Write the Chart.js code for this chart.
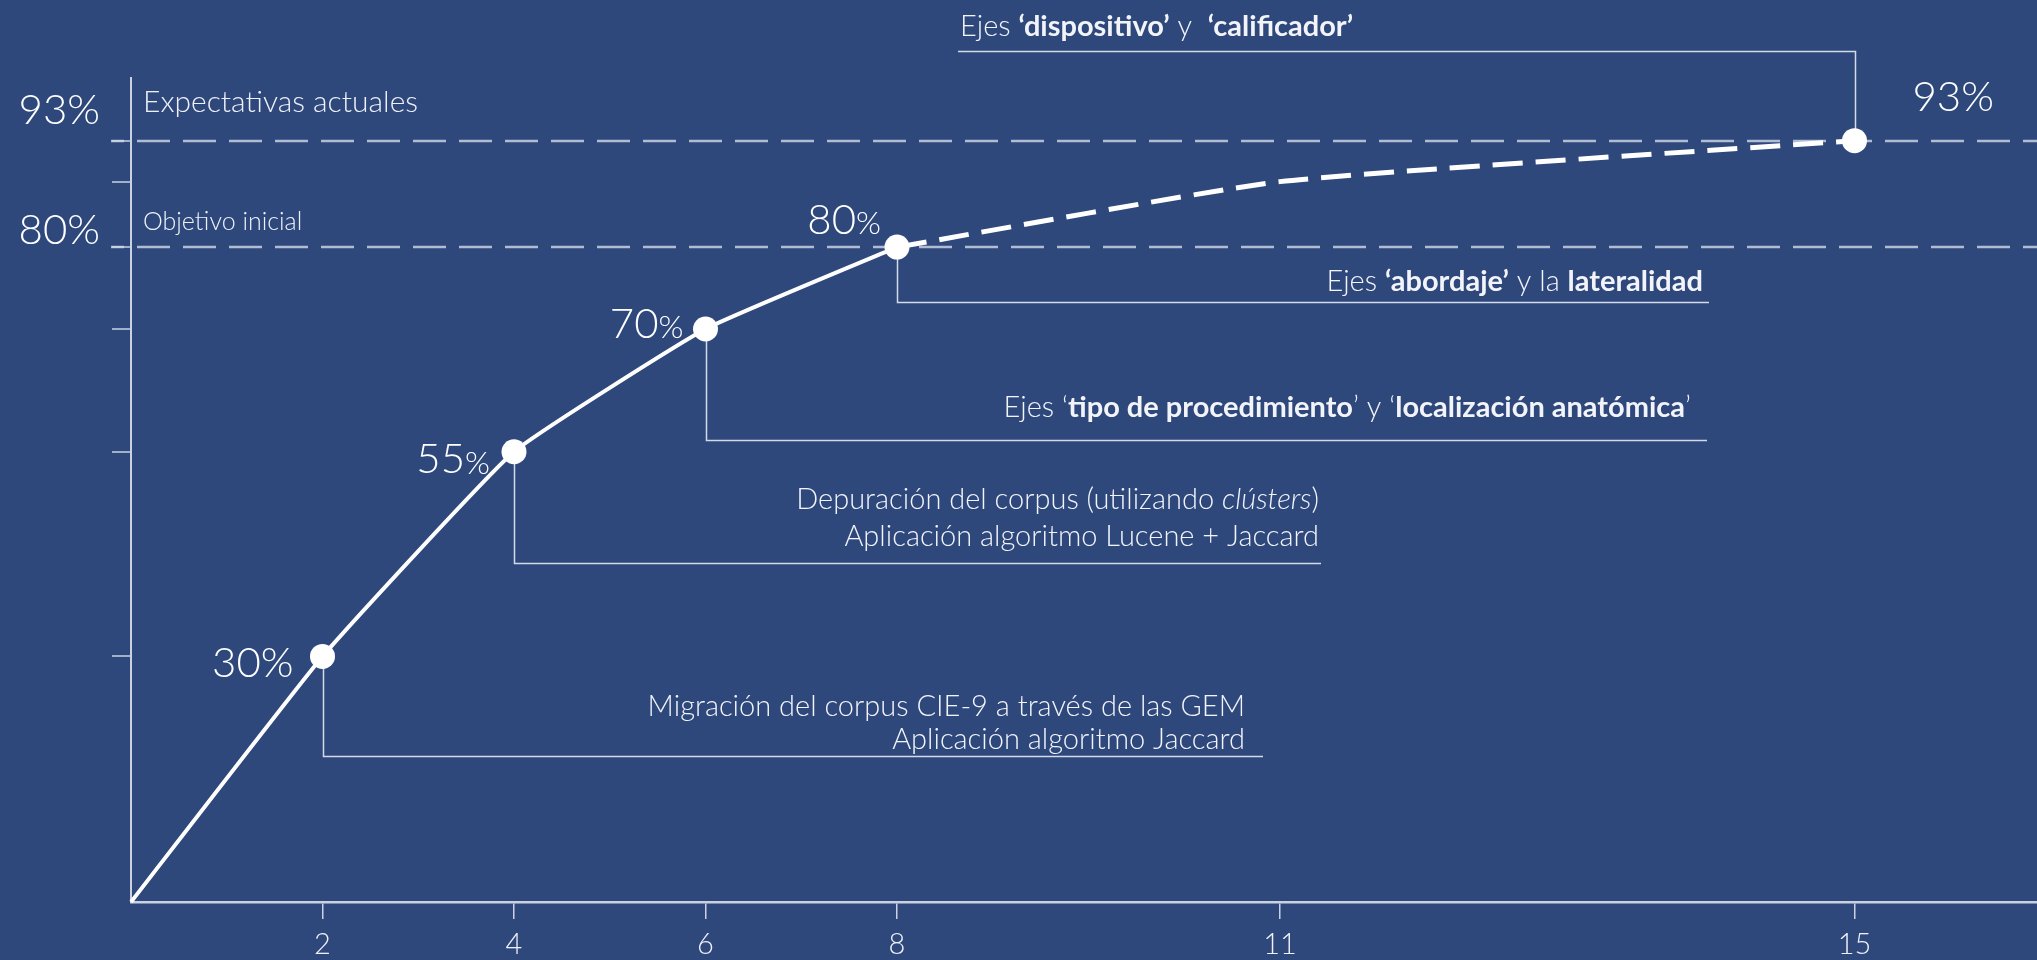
<!DOCTYPE html>
<html><head><meta charset="utf-8">
<script src="https://cdn.jsdelivr.net/npm/chart.js@4.4.1/dist/chart.umd.min.js"></script>
<style>
html,body{margin:0;padding:0;background:#2e487c;overflow:hidden;}
#wrap{position:relative;width:2054px;height:960px;overflow:hidden;}
canvas{display:block;}
</style></head><body>
<div id="wrap"><canvas id="c" width="2054" height="960"></canvas></div>
<script>
// ---------- data ----------
const categories = ['', '2', '4', '6', '8', '', '11', '', '', '15', ''];
const achieved   = [0, 30, 55, 70, 80, null, null, null, null, null, null];
const projected  = [null, null, null, null, 80, null, 88, null, null, 93, null];
const yTickValues = [30, 55, 70, 80, 88, 93];
const referenceValues = [93, 80];
const referenceTickLabels = ['93%', '80%'];
const referenceLabels = ['Expectativas actuales', 'Objetivo inicial'];
const milestoneIndex = [1, 2, 3, 4, 9];
const milestoneTexts = [
  [[['Migración del corpus CIE-9 a través de las GEM', 'n']], [['Aplicación algoritmo Jaccard', 'n']]],
  [[['Depuración del corpus (utilizando ', 'n'], ['clústers', 'i'], [')', 'n']], [['Aplicación algoritmo Lucene + Jaccard', 'n']]],
  [[['Ejes ‘', 'n'], ['tipo de procedimiento', 'b'], ['’ y ‘', 'n'], ['localización anatómica', 'b'], ['’', 'n']]],
  [[['Ejes ', 'n'], ['‘abordaje’', 'b'], [' y la ', 'n'], ['lateralidad', 'b']]],
  [[['Ejes ', 'n'], ['‘dispositivo’', 'b'], [' y  ', 'n'], ['‘calificador’', 'b']]]
];

// ---------- layout / style (not data) ----------
const FONT = 'Lato, "Open Sans", sans-serif';
const AXIS = '#c9d1e2';
const LEADER = '#d3dae8';
const REFLINE = 'rgba(210,218,233,0.8)';
const Y_TOP = 100.66; // axis line extends slightly above 100
const msLayout = [
  {ly: 756, ex: 1263, tx: 1245, align: 'right', ty: [707, 740]},
  {ly: 563, ex: 1321, tx: 1319, align: 'right', ty: [500, 537]},
  {ly: 440, ex: 1707, tx: 1691, align: 'right', ty: [408]},
  {ly: 302, ex: 1709, tx: 1703, align: 'right', ty: [282]},
  {ly: 51,  ex: 958,  tx: 960,  align: 'left',  ty: [27]}
];
const plLayout = [
  {dx: -29, dy: 7,  align: 'right', smallPct: false},
  {dx: -24, dy: 8,  align: 'right', smallPct: true},
  {dx: -22, dy: -5, align: 'right', smallPct: true},
  {dx: -16, dy: -27, align: 'right', smallPct: true},
  {dx: 58,  dy: -43, align: 'left', smallPct: false}
];
const MS_SIZE = 29;

function fontFor(style, size) {
  if (style === 'b') return '700 ' + size + 'px ' + FONT;
  if (style === 'i') return 'italic 300 ' + size + 'px ' + FONT;
  return '300 ' + size + 'px ' + FONT;
}
function drawRich(ctx, segs, x, y, align, size) {
  let total = 0;
  segs.forEach(s => { ctx.font = fontFor(s[1], size); total += ctx.measureText(s[0]).width; });
  let cx = align === 'right' ? x - total : x;
  segs.forEach(s => {
    ctx.font = fontFor(s[1], size);
    ctx.textAlign = 'left';
    ctx.fillText(s[0], cx, y);
    cx += ctx.measureText(s[0]).width;
  });
}

const overlay = {
  id: 'overlay',
  beforeDatasetsDraw(chart) {
    const ctx = chart.ctx, y = chart.scales.y;
    ctx.save();
    ctx.strokeStyle = REFLINE;
    ctx.lineWidth = 2.5;
    ctx.setLineDash([33, 13]);
    ctx.lineDashOffset = 20;
    referenceValues.forEach(v => {
      const py = Math.round(y.getPixelForValue(v));
      ctx.beginPath(); ctx.moveTo(111, py); ctx.lineTo(chart.width, py); ctx.stroke();
    });
    ctx.setLineDash([]);
    ctx.strokeStyle = LEADER;
    ctx.lineWidth = 1.5;
    const meta0 = chart.getDatasetMeta(0), meta1 = chart.getDatasetMeta(1);
    milestoneIndex.forEach((idx, k) => {
      const pt = (achieved[idx] != null ? meta0 : meta1).data[idx];
      const L = msLayout[k];
      const px = Math.round(pt.x) + 0.5;
      ctx.beginPath();
      ctx.moveTo(px, pt.y);
      ctx.lineTo(px, L.ly + 0.5);
      ctx.lineTo(L.ex, L.ly + 0.5);
      ctx.stroke();
    });
    ctx.restore();
  },
  afterDraw(chart) {
    const ctx = chart.ctx, y = chart.scales.y;
    ctx.save();
    ctx.fillStyle = '#ffffff';
    ctx.textBaseline = 'middle';
    referenceValues.forEach((v, i) => {
      const py = y.getPixelForValue(v);
      ctx.font = '300 42px ' + FONT;
      ctx.textAlign = 'right';
      ctx.fillStyle = '#ffffff';
      ctx.fillText(referenceTickLabels[i], 100, py - (i === 0 ? 30 : 17));
      ctx.textAlign = 'left';
      ctx.font = (i === 0 ? '300 30px ' : '300 25px ') + FONT;
      ctx.fillStyle = '#eef1f7';
      ctx.fillText(referenceLabels[i], 143, py - (i === 0 ? 38 : 25));
    });
    ctx.fillStyle = '#ffffff';
    const meta0 = chart.getDatasetMeta(0), meta1 = chart.getDatasetMeta(1);
    milestoneIndex.forEach((idx, k) => {
      const val = achieved[idx] != null ? achieved[idx] : projected[idx];
      const pt = (achieved[idx] != null ? meta0 : meta1).data[idx];
      const P = plLayout[k];
      const num = String(val);
      ctx.font = '300 42px ' + FONT;
      const wn = ctx.measureText(num).width;
      const pctSize = P.smallPct ? 32 : 42;
      ctx.font = '300 ' + pctSize + 'px ' + FONT;
      const wp = ctx.measureText('%').width;
      const x0 = P.align === 'right' ? pt.x + P.dx - wn - wp : pt.x + P.dx;
      const cy = pt.y + P.dy;
      ctx.textAlign = 'left';
      ctx.font = '300 42px ' + FONT;
      ctx.fillText(num, x0, cy);
      ctx.font = '300 ' + pctSize + 'px ' + FONT;
      ctx.fillText('%', x0 + wn, cy + (P.smallPct ? 4 : 0));
    });
    ctx.fillStyle = '#f2f4f9';
    milestoneTexts.forEach((lines, k) => {
      const L = msLayout[k];
      lines.forEach((segs, j) => drawRich(ctx, segs, L.tx, L.ty[j], L.align, MS_SIZE));
    });
    ctx.restore();
  }
};

new Chart(document.getElementById('c'), {
  type: 'line',
  data: {
    labels: categories,
    datasets: [
      {
        data: achieved,
        borderColor: '#ffffff',
        borderWidth: 4,
        tension: 0.12,
        pointRadius: achieved.map((v, i) => (i > 0 && v != null) ? 12.5 : 0),
        pointBackgroundColor: '#ffffff',
        pointBorderWidth: 0,
        clip: false,
        order: 1
      },
      {
        data: projected,
        borderColor: '#ffffff',
        borderWidth: 5,
        borderDash: [30, 13],
        spanGaps: true,
        tension: 0.15,
        pointRadius: projected.map((v, i) => (v != null && achieved[i] == null && milestoneIndex.includes(i)) ? 12.5 : 0),
        pointBackgroundColor: '#ffffff',
        pointBorderWidth: 0,
        clip: false,
        order: 2
      }
    ]
  },
  options: {
    responsive: false,
    animation: false,
    devicePixelRatio: 1,
    events: [],
    layout: { autoPadding: false, padding: { left: 112, top: 78, right: 0, bottom: 0 } },
    plugins: { legend: { display: false }, tooltip: { enabled: false } },
    scales: {
      x: {
        type: 'category',
        offset: false,
        afterFit: (s) => { s.height = 58; },
        grid: {
          drawOnChartArea: false,
          drawTicks: true,
          tickLength: 17,
          lineWidth: 1.5,
          color: (c) => (c.tick && c.tick.label) ? AXIS : 'rgba(0,0,0,0)'
        },
        border: { color: AXIS, width: 2.5 },
        ticks: {
          color: '#eef1f7',
          font: { family: FONT, size: 29, weight: '300' },
          padding: 8,
          autoSkip: false,
          maxRotation: 0
        }
      },
      y: {
        type: 'linear',
        min: 0, max: Y_TOP,
        afterFit: (s) => { s.width = 19; },
        afterBuildTicks: (s) => { s.ticks = yTickValues.map(v => ({ value: v })); },
        grid: { drawOnChartArea: false, drawTicks: true, tickLength: 19, lineWidth: 2, color: '#9fb0cc' },
        border: { color: AXIS, width: 2 },
        ticks: { display: false }
      }
    }
  },
  plugins: [overlay]
});
</script>
</body></html>
